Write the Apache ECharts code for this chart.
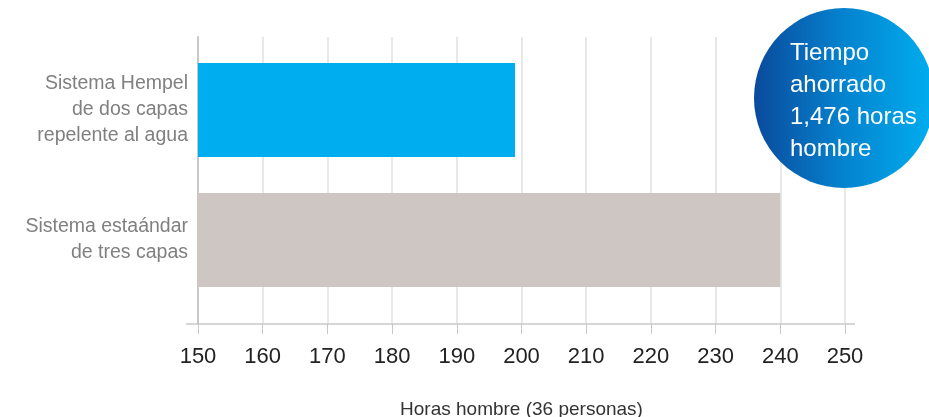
<!DOCTYPE html>
<html>
<head>
<meta charset="utf-8">
<script src="https://cdn.jsdelivr.net/npm/echarts@6/dist/echarts.min.js"></script>
<style>
  html, body { margin: 0; padding: 0; background: #fff; }
  #chart { width: 929px; height: 417px; }
</style>
</head>
<body>
<div id="chart"></div>
<script>
// data
const categories = ['Sistema Hempel\nde dos capas\nrepelente al agua', 'Sistema estaándar\nde tres capas'];
const hours = [199, 240];
const barColors = ['#00aeef', '#cdc6c2'];
const axisMin = 150;
const axisMax = 250;
const axisStep = 10;
const axisTitle = 'Horas hombre (36 personas)';
const bubbleLines = ['Tiempo', 'ahorrado', '1,476 horas', 'hombre'];

const chart = echarts.init(document.getElementById('chart'));

chart.setOption({
    animation: false,
    textStyle: { fontFamily: 'Liberation Sans' },
    grid: [
        // frame: gridlines + axes
        { left: 198, right: 84, top: 37, bottom: 93, outerBoundsMode: 'none', containLabel: false },
        // bars
        { left: 198, right: 84, top: 45, bottom: 112, outerBoundsMode: 'none', containLabel: false }
    ],
    xAxis: [
        {
            gridIndex: 0,
            type: 'value',
            min: axisMin,
            max: axisMax,
            interval: axisStep,
            name: axisTitle,
            nameLocation: 'middle',
            nameGap: 76,
            nameTextStyle: { fontSize: 19, color: '#333' },
            axisLine: { show: false },
            axisTick: { show: true, length: 10, lineStyle: { color: '#c8c8c8' } },
            axisLabel: { fontSize: 22, color: '#222', margin: 22 },
            splitLine: { show: true, lineStyle: { color: '#e0e0e0', width: 1.5 } }
        },
        {
            gridIndex: 1,
            type: 'value',
            min: axisMin,
            max: axisMax,
            show: false
        }
    ],
    yAxis: [
        {
            gridIndex: 0,
            type: 'category',
            data: [''],
            axisLine: { show: true, lineStyle: { color: '#c8c8c8', width: 2 } },
            axisTick: { show: false },
            axisLabel: { show: false }
        },
        {
            gridIndex: 1,
            type: 'category',
            inverse: true,
            data: categories,
            axisLine: { show: false },
            axisTick: { show: false },
            axisLabel: {
                fontSize: 19.5,
                lineHeight: 26,
                color: '#808080',
                align: 'right',
                margin: 10
            }
        }
    ],
    series: [
        {
            type: 'bar',
            xAxisIndex: 1,
            yAxisIndex: 1,
            barWidth: 94,
            data: hours.map((v, i) => ({ value: v, itemStyle: { color: barColors[i] } }))
        }
    ],
    graphic: [
        {
            // x axis baseline, runs a little past the plot on both sides
            type: 'line',
            shape: { x1: 186, y1: 324, x2: 855, y2: 324 },
            style: { stroke: '#c8c8c8', lineWidth: 1.5 },
            z: 5
        },
        {
            type: 'circle',
            shape: { cx: 844, cy: 98, r: 90 },
            style: {
                fill: new echarts.graphic.LinearGradient(0, 0, 1, 0, [
                    { offset: 0, color: '#0a4a9c' },
                    { offset: 0.5, color: '#0583cf' },
                    { offset: 1, color: '#00aeef' }
                ])
            },
            z: 10
        },
        {
            type: 'text',
            left: 790,
            top: 37,
            style: {
                text: bubbleLines.join('\n'),
                fill: '#fff',
                fontSize: 24,
                lineHeight: 32,
                fontFamily: 'Liberation Sans'
            },
            z: 11
        }
    ]
});
</script>
</body>
</html>
